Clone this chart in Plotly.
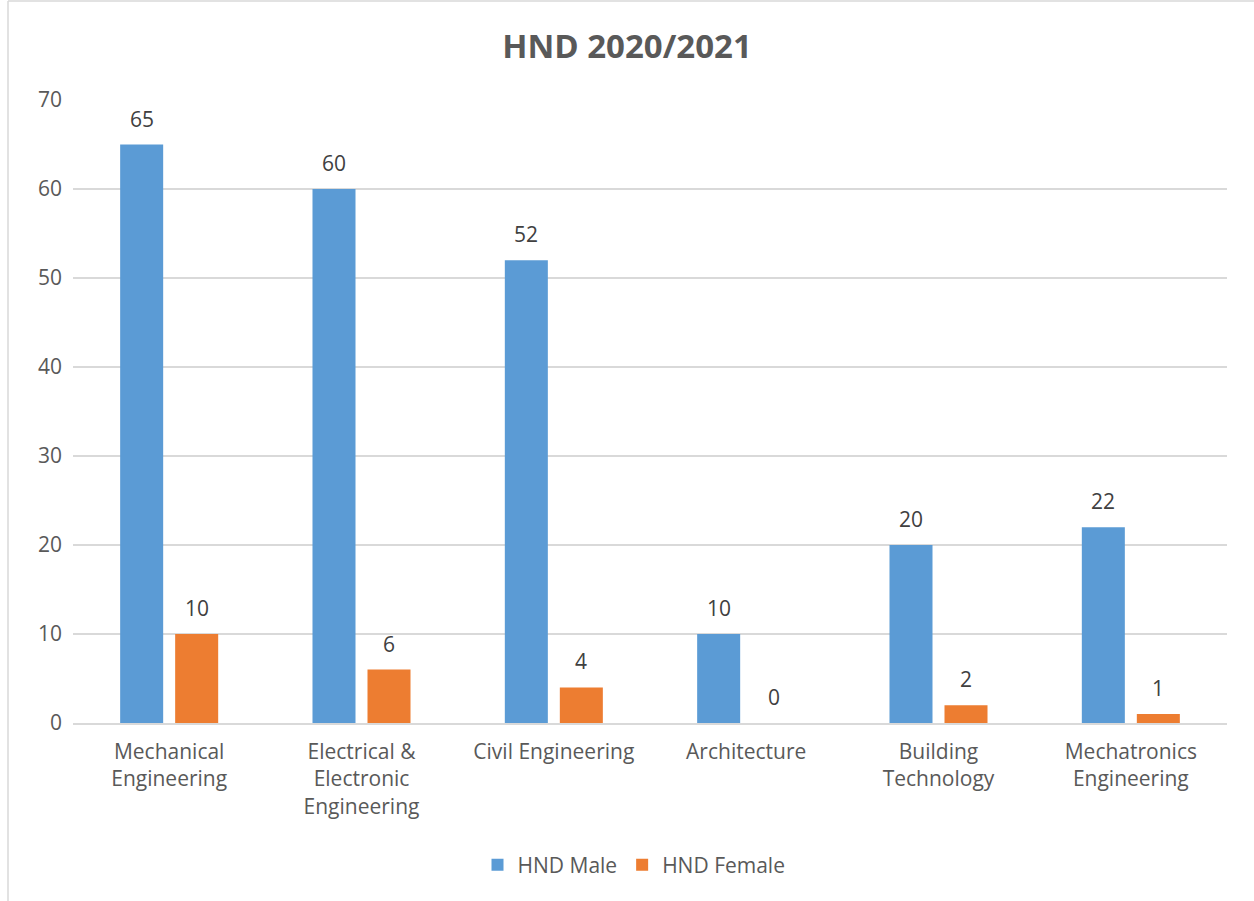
import plotly.graph_objects as go

# Enrolment figures per programme
programmes = [
    "Mechanical<br>Engineering",
    "Electrical &<br>Electronic<br>Engineering",
    "Civil Engineering",
    "Architecture",
    "Building<br>Technology",
    "Mechatronics<br>Engineering",
]
male = [65, 60, 52, 10, 20, 22]
female = [10, 6, 4, 0, 2, 1]
y_ticks = [0, 10, 20, 30, 40, 50, 60, 70]

BLUE = "#5B9BD5"
ORANGE = "#ED7D31"
GRID = "#D9D9D9"
TEXT = "#595959"
LABEL = "#404040"
FONT = "Open Sans"
FS = 21

W, H = 1254, 901
ML, MR, MT, MB = 73, 27, 100, 178
plot_w = W - ML - MR
plot_h = H - MT - MB

fig = go.Figure()
fig.add_trace(go.Bar(name="HND Male", x=programmes, y=male, marker_color=BLUE,
                     marker_line_width=0))
fig.add_trace(go.Bar(name="HND Female", x=programmes, y=female, marker_color=ORANGE,
                     marker_line_width=0))

# value labels above each bar
slot = 55
for series, shift in ((male, -slot / 2), (female, slot / 2)):
    for cat, v in zip(programmes, series):
        fig.add_annotation(x=cat, y=v, text=str(v), showarrow=False,
                           xshift=shift, yshift=26, yanchor="middle",
                           font=dict(family=FONT, size=FS, color=LABEL))

# chart frame (left and top edges)
def px_x(p):
    return (p - ML) / plot_w

def px_y(p):
    return (H - MB - p) / plot_h

frame = dict(color=GRID, width=1.5)
fig.add_shape(type="line", xref="paper", yref="paper",
              x0=px_x(8), x1=px_x(8), y0=px_y(1), y1=px_y(H + 5), line=frame)
fig.add_shape(type="line", xref="paper", yref="paper",
              x0=px_x(8), x1=px_x(W + 5), y0=px_y(1), y1=px_y(1), line=frame)

fig.update_layout(
    width=W, height=H,
    margin=dict(l=ML, r=MR, t=MT, b=MB),
    paper_bgcolor="white", plot_bgcolor="white",
    barmode="group", bargap=0.428, bargroupgap=0.218,
    title=dict(text="<b>HND 2020/2021</b>", x=0.5, xanchor="center",
               y=1 - 46 / H, yanchor="middle",
               font=dict(family=FONT, size=33, color=TEXT)),
    font=dict(family=FONT, size=FS, color=TEXT),
    legend=dict(orientation="h", x=px_x(634), xanchor="center",
                y=px_y(865), yanchor="middle",
                font=dict(family=FONT, size=FS, color=TEXT),
                itemwidth=30, traceorder="normal"),
    showlegend=True,
)
fig.update_xaxes(showgrid=False, showline=True, linecolor=GRID, linewidth=1.5,
                 ticks="", ticklabelstandoff=9,
                 tickfont=dict(family=FONT, size=FS, color=TEXT))
fig.update_yaxes(range=[0, 70], tickvals=y_ticks, showgrid=True, gridcolor=GRID,
                 gridwidth=1.5, zeroline=False, showline=False, ticks="",
                 ticklabelstandoff=10,
                 tickfont=dict(family=FONT, size=FS, color=TEXT))

fig.write_html("out.html")
